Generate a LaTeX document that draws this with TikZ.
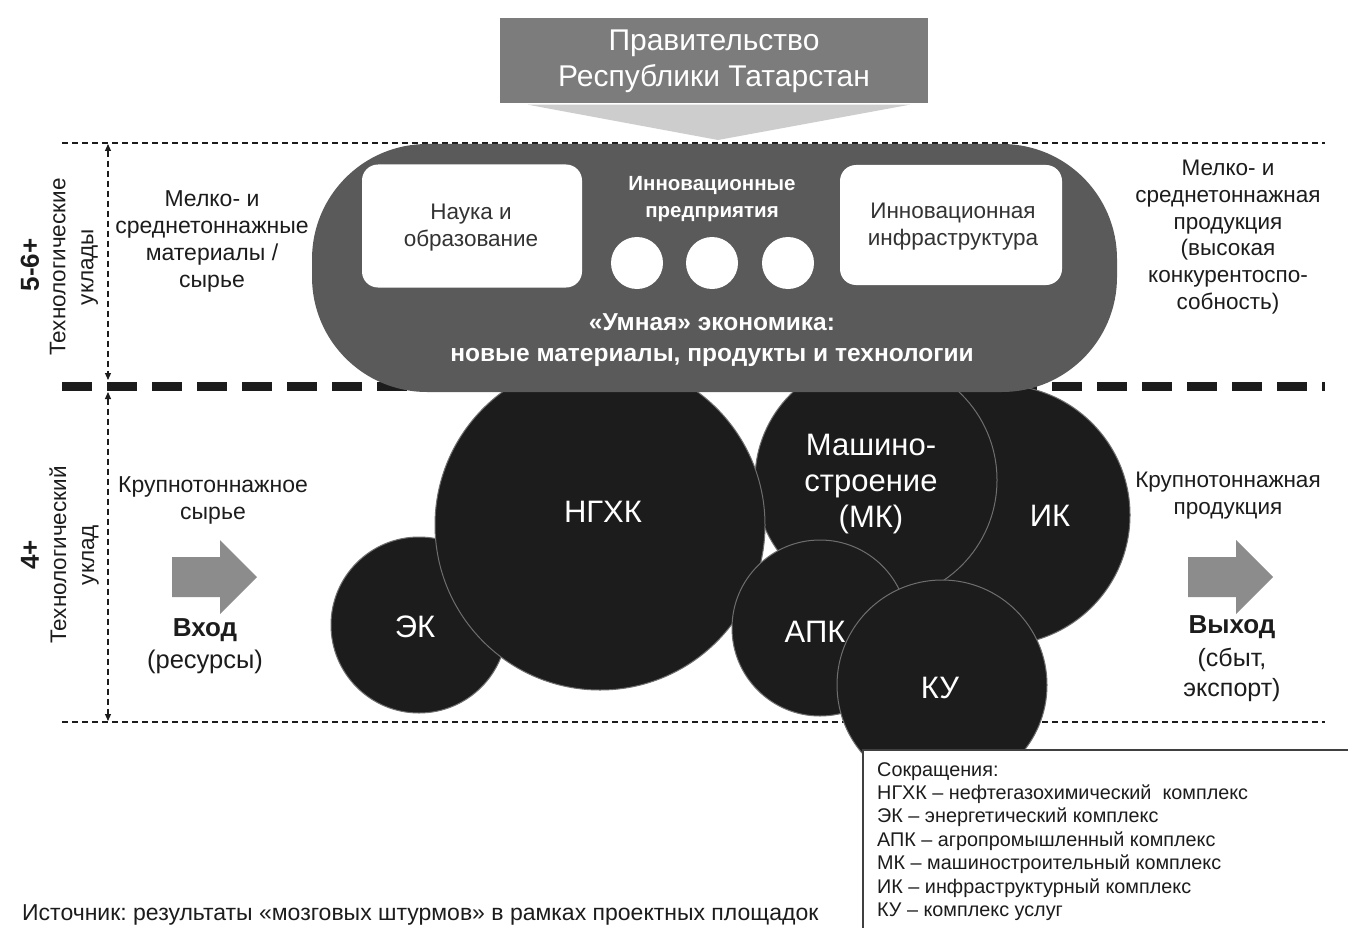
\documentclass[tikz,border=0pt]{standalone}
\usepackage{fontspec}
\setmainfont{Liberation Sans}
\usetikzlibrary{arrows.meta}
\frenchspacing
\definecolor{stadgray}{HTML}{5A5A5A}
\definecolor{circdark}{HTML}{1C1C1C}
\definecolor{circline}{HTML}{6E6E6E}
\definecolor{govgray}{HTML}{7C7C7C}
\definecolor{trigray}{HTML}{CDCDCD}
\definecolor{arrgray}{HTML}{8C8C8C}
\definecolor{txtdark}{HTML}{1C1C1C}
\definecolor{boxtxt}{HTML}{333333}
\begin{document}
\begin{tikzpicture}[x=1pt,y=-1pt,
  thindash/.style={draw=txtdark, line width=1.1pt, dash pattern=on 6pt off 4pt},
  thickdash/.style={draw=txtdark, line width=9pt, dash pattern=on 30pt off 15pt},
  vtip/.style={{Triangle[length=7pt,width=6pt]}-{Triangle[length=7pt,width=6pt]}},
  circ/.style={circle, fill=circdark, draw=circline, line width=1pt, inner sep=0pt},
  ctext/.style={text=white, font=\fontsize{31}{36}\selectfont, align=center},
  sidetext/.style={text=txtdark, font=\fontsize{23}{27}\selectfont, align=center},
  sidebold/.style={text=txtdark, font=\bfseries\fontsize{26}{30}\selectfont, align=center},
  rottext/.style={text=txtdark, rotate=90, align=center, font=\fontsize{22.5}{28}\selectfont},
  rotbold/.style={text=txtdark, font=\bfseries\fontsize{26}{30}\selectfont, rotate=90},
  whitebox/.style={fill=white, rounded corners=16pt},
  boxtext/.style={text=boxtxt, font=\fontsize{22.5}{27}\selectfont, align=center},
  dot/.style={circle, fill=white, inner sep=0pt, minimum size=52pt},
  blockarrow/.style={fill=arrgray},
]
\useasboundingbox (0,0) rectangle (1348,928);
\fill[white] (0,0) rectangle (1348,928);

% guide lines
\coordinate (tl) at (62,143);  \coordinate (tr) at (1325,143);
\coordinate (ml) at (62,386);  \coordinate (mr) at (1325,386);
\coordinate (bl) at (62,722);  \coordinate (br) at (1325,722);
\coordinate (vt) at (108,144); \coordinate (vm1) at (108,380);
\coordinate (vm2) at (108,392); \coordinate (vb) at (108,721);
\draw[thindash] (tl) -- (tr);
\draw[thindash] (bl) -- (br);
\draw[thickdash] (ml) -- (mr);
\draw[thindash, vtip] (vt) -- (vm1);
\draw[thindash, vtip] (vm2) -- (vb);

% government
\node[fill=govgray, minimum width=428pt, minimum height=85pt, inner sep=0pt,
      text=white, font=\fontsize{30}{36}\selectfont, align=center] (gov) at (714,61)
      {Правительство\\Республики Татарстан};
\fill[trigray] (gov.south west) ++(28,1) -- ++(382,0) -- (718,140) -- cycle;

% circles
\node[circ, minimum size=260pt] (ik) at (1000,515) {};
\node[circ, minimum size=242pt] (mk) at (876,480) {};
\node[circ, minimum size=176pt] (ek) at (419,625) {};
\node[circ, minimum size=330pt] (ngxk) at (600,525) {};
\node[circ, minimum size=176pt] (apk) at (820,628) {};
\node[circ, minimum size=210pt] (ku) at (942,685) {};

\node[ctext] (tngxk) at (603,512) {НГХК};
\node[ctext] (tek) at (415,627) {ЭК};
\node[ctext] (tmk) at (871,484) {Машино-\\строение\\(МК)};
\node[ctext] (tik) at (1050,516) {ИК};
\node[ctext] (tapk) at (815,632) {АПК};
\node[ctext] (tku) at (940,688) {КУ};

% smart economy stadium
\node[fill=stadgray, rounded corners=115pt, minimum width=805pt, minimum height=248pt,
      inner sep=0pt] (smart) at (714.5,268) {};
\node[whitebox, minimum width=220pt, minimum height=123pt] (nauka) at (472,226) {};
\node[boxtext] (tnauka) at (471,228) {Наука и\\образование};
\node[whitebox, minimum width=222pt, minimum height=120pt] (infra) at (951,225) {};
\node[boxtext] (tinfra) at (953,227) {Инновационная\\инфраструктура};
\node[text=white, font=\bfseries\fontsize{20.5}{27}\selectfont, align=center] (tpred) at (712,199)
      {Инновационные\\предприятия};
\node[dot] (d1) at (637,263) {};
\node[dot] (d2) at (712,263) {};
\node[dot] (d3) at (788,263) {};
\node[text=white, font=\bfseries\fontsize{24.5}{31}\selectfont, align=center] (tsmart) at (712,340)
      {«Умная» экономика:\\новые материалы, продукты и технологии};

% side labels left
\node[rotbold] (l56) at (30,265) {5-6+};
\node[rottext] (l56t) at (74,267) {Технологические\\уклады};
\node[rotbold] (l4) at (30,555) {4+};
\node[rottext] (l4t) at (74,555) {Технологический\\уклад};

\node[sidetext] (lsmall) at (212,241) {Мелко- и\\среднетоннажные\\материалы /\\сырье};
\node[sidetext] (lbig) at (213,500) {Крупнотоннажное\\сырье};
\fill[blockarrow] (172,557) -- (220,557) -- (220,540) -- (257,577) -- (220,614) -- (220,597) -- (172,597) -- cycle;
\coordinate (inarrow) at (214,577);
\node[sidebold] (vhod) at (205,630) {Вход};
\node[sidetext, font=\fontsize{25.5}{30}\selectfont] (res) at (205,662) {(ресурсы)};

% side labels right
\node[sidetext, font=\fontsize{22.5}{26.8}\selectfont] (rsmall) at (1228,237)
      {Мелко- и\\среднетоннажная\\продукция\\(высокая\\конкурентоспо-\\собность)};
\node[sidetext, font=\fontsize{22.5}{27}\selectfont] (rbig) at (1228,496) {Крупнотоннажная\\продукция};
\fill[blockarrow] (1188,557) -- (1236,557) -- (1236,540) -- (1273,577) -- (1236,614) -- (1236,597) -- (1188,597) -- cycle;
\coordinate (outarrow) at (1230,577);
\node[sidebold] (vyhod) at (1232,627) {Выход};
\node[sidetext, font=\fontsize{25}{30}\selectfont] (sbyt) at (1232,675) {(сбыт,\\экспорт)};

% legend
\fill[white] (863,750) rectangle (1348,928);
\coordinate (lg1) at (863,930); \coordinate (lg2) at (863,750); \coordinate (lg3) at (1348,750);
\draw[draw=black!75, line width=1.3pt] (lg1) -- (lg2) -- (lg3);
\node[anchor=north west, align=left, text=txtdark, font=\fontsize{19.8}{23.4}\selectfont, inner sep=0pt] (legend) at (877,762)
 {Сокращения:\\
  НГХК – нефтегазохимический\ \ комплекс\\
  ЭК – энергетический комплекс\\
  АПК – агропромышленный комплекс\\
  МК – машиностроительный комплекс\\
  ИК – инфраструктурный комплекс\\
  КУ – комплекс услуг};

% source
\node[anchor=west, text=txtdark, font=\fontsize{23}{26}\selectfont, inner sep=0pt] (source) at (22,915)
 {Источник: результаты «мозговых штурмов» в рамках проектных площадок};
\end{tikzpicture}
\end{document}
